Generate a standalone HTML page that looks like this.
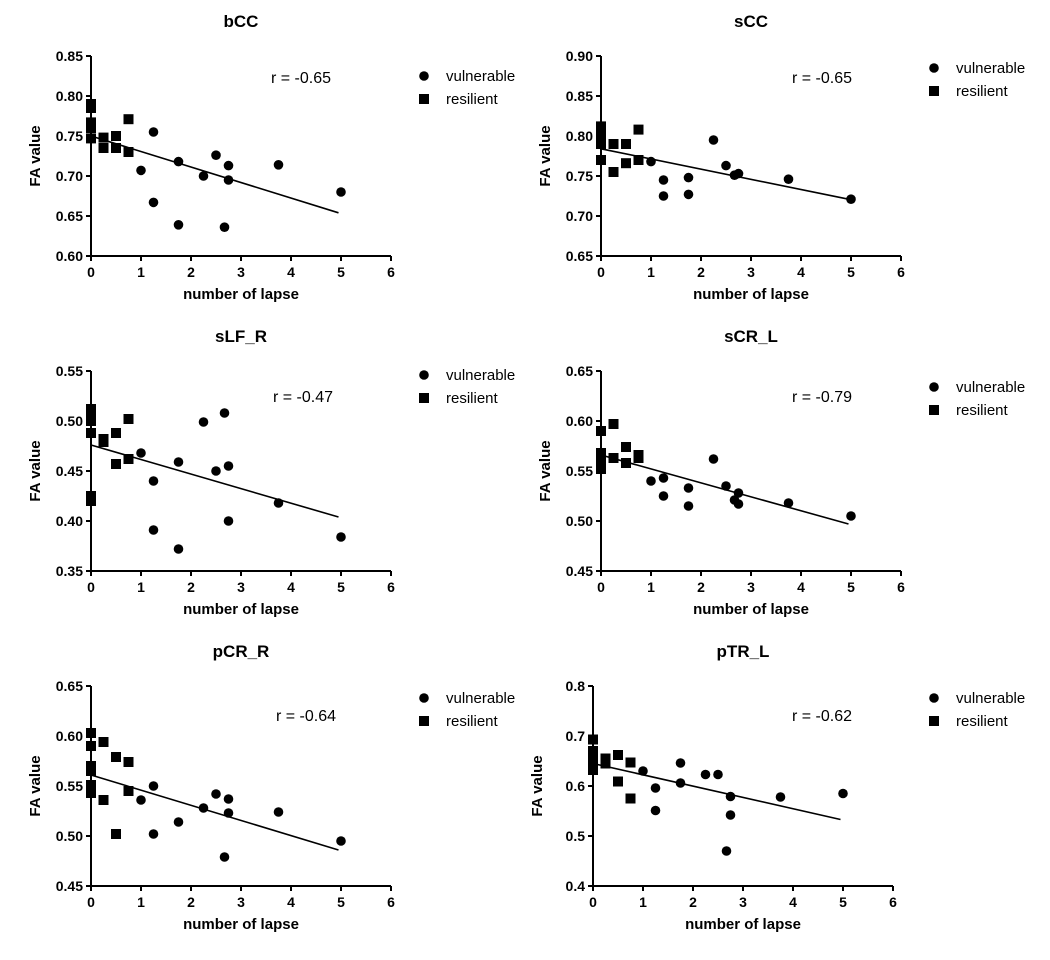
<!DOCTYPE html>
<html><head><meta charset="utf-8">
<style>
body{margin:0;background:#fff;}
svg{display:block;font-family:"Liberation Sans",Arial,sans-serif;}
.tick{font-size:14px;font-weight:bold;}
.ttl{font-size:17px;font-weight:bold;}
.axt{font-size:15px;font-weight:bold;}
.leg{font-size:15px;}
</style></head>
<body>
<svg id="chart" width="1050" height="960" viewBox="0 0 1050 960"></svg>
<script>
const panelTitles=["bCC","sCC","sLF_R","sCR_L","pCR_R","pTR_L"];
const rLabels=["r = -0.65","r = -0.65","r = -0.47","r = -0.79","r = -0.64","r = -0.62"];
const yMins=[0.60,0.65,0.35,0.45,0.45,0.4];
const yMaxs=[0.85,0.90,0.55,0.65,0.65,0.8];
const yStepsData=[0.05,0.05,0.05,0.05,0.05,0.1];
const yDecimals=[2,2,2,2,2,1];
const xTicks=[0,1,2,3,4,5,6];
const resX=[
 [0,0,0,0,0,0.25,0.25,0.5,0.5,0.75,0.75],
 [0,0,0,0,0,0,0.25,0.25,0.5,0.5,0.75,0.75],
 [0,0,0,0,0,0,0.25,0.25,0.5,0.5,0.75,0.75],
 [0,0,0,0,0,0.25,0.25,0.5,0.5,0.75,0.75],
 [0,0,0,0,0,0,0.25,0.25,0.5,0.5,0.75,0.75],
 [0,0,0,0,0,0.25,0.25,0.5,0.5,0.75,0.75]];
const resY=[
 [0.790,0.785,0.767,0.760,0.747,0.748,0.735,0.750,0.735,0.771,0.730],
 [0.812,0.805,0.800,0.795,0.790,0.770,0.790,0.755,0.790,0.766,0.808,0.770],
 [0.512,0.505,0.500,0.488,0.425,0.420,0.482,0.479,0.488,0.457,0.502,0.462],
 [0.590,0.568,0.563,0.558,0.552,0.597,0.563,0.574,0.558,0.566,0.563],
 [0.603,0.590,0.570,0.565,0.551,0.543,0.594,0.536,0.579,0.502,0.574,0.545],
 [0.693,0.670,0.660,0.645,0.632,0.655,0.645,0.662,0.609,0.647,0.575]];
const vulX=[
 [1,1.25,1.25,1.75,1.75,2.25,2.5,2.67,2.75,2.75,3.75,5],
 [1,1.25,1.25,1.75,1.75,2.25,2.5,2.67,2.75,3.75,5],
 [1,1.25,1.25,1.75,1.75,2.25,2.5,2.67,2.75,2.75,3.75,5],
 [1,1.25,1.25,1.75,1.75,2.25,2.5,2.67,2.75,2.75,3.75,5],
 [1,1.25,1.25,1.75,2.25,2.5,2.67,2.75,2.75,3.75,5],
 [1,1.25,1.25,1.75,1.75,2.25,2.5,2.67,2.75,2.75,3.75,5]];
const vulY=[
 [0.707,0.755,0.667,0.718,0.639,0.700,0.726,0.636,0.713,0.695,0.714,0.680],
 [0.768,0.745,0.725,0.748,0.727,0.795,0.763,0.751,0.753,0.746,0.721],
 [0.468,0.440,0.391,0.459,0.372,0.499,0.450,0.508,0.455,0.400,0.418,0.384],
 [0.540,0.543,0.525,0.533,0.515,0.562,0.535,0.521,0.528,0.517,0.518,0.505],
 [0.536,0.550,0.502,0.514,0.528,0.542,0.479,0.537,0.523,0.524,0.495],
 [0.630,0.596,0.551,0.646,0.606,0.623,0.623,0.470,0.579,0.542,0.578,0.585]];
const fitStart=[0.750,0.784,0.476,0.566,0.561,0.645];
const fitEnd=[0.654,0.721,0.404,0.497,0.486,0.533];
const fitXEnd=4.95;

const NS="http://www.w3.org/2000/svg";
const svg=document.getElementById('chart');
const ox=[91,601,91,601,91,593];
const oy=[56,56,371,371,686,686];
const rPos=[[301,78],[822,78],[303,397],[822,397],[306,716],[822,716]];
const legY=[76,68,375,387,698,698];
function mk(tag,attrs,parent,text){
  const e=document.createElementNS(NS,tag);
  for(const k in attrs)e.setAttribute(k,attrs[k]);
  if(text!==undefined)e.textContent=text;
  parent.appendChild(e);return e;
}
for(let p=0;p<6;p++){
  const X0=ox[p],Y0=oy[p],W=300,H=200;
  const sx=v=>X0+v/6*W;
  const sy=v=>Y0+H-(v-yMins[p])/(yMaxs[p]-yMins[p])*H;
  const g=mk('g',{},svg);
  
  
  const cx=X0+W/2;
  const t=mk('text',{x:cx,y:Y0-29,'text-anchor':'middle','class':'ttl'},g,panelTitles[p]);
  
  
  const ax=mk('path',{d:`M${X0},${Y0}V${Y0+H}H${X0+W}`,stroke:'#000','stroke-width':2,fill:'none'},g);
  
  
  const n=Math.round((yMaxs[p]-yMins[p])/yStepsData[p]);
  for(let i=0;i<=n;i++){
    const v=yMins[p]+i*yStepsData[p];const y=sy(v);
    mk('line',{x1:X0-5,x2:X0,y1:y,y2:y,stroke:'#000','stroke-width':2},g);
    const tl=mk('text',{x:X0-8,y:y+5,'text-anchor':'end','class':'tick'},g,v.toFixed(yDecimals[p]));
    
    
  }
  xTicks.forEach(v=>{
    const x=sx(v);
    mk('line',{x1:x,x2:x,y1:Y0+H,y2:Y0+H+5,stroke:'#000','stroke-width':2},g);
    const tl=mk('text',{x:x,y:Y0+H+21,'text-anchor':'middle','class':'tick'},g,String(v));
    
    
  });
  const xt=mk('text',{x:cx,y:Y0+H+43,'text-anchor':'middle','class':'axt'},g,'number of lapse');
  
  
  const yt=mk('text',{x:0,y:0,'text-anchor':'middle','class':'axt',transform:`translate(${X0-51},${Y0+H/2}) rotate(-90)`},g,'FA value');
  
  
  const fl=mk('line',{x1:sx(0),y1:sy(fitStart[p]),x2:sx(fitXEnd),y2:sy(fitEnd[p]),stroke:'#000','stroke-width':1.6},g);
  
  
  resX[p].forEach((xv,i)=>{
    const r=mk('rect',{x:sx(xv)-5,y:sy(resY[p][i])-5,width:10,height:10,fill:'#000'},g);
    
    
  });
  vulX[p].forEach((xv,i)=>{
    const c=mk('circle',{cx:sx(xv),cy:sy(vulY[p][i]),r:4.8,fill:'#000'},g);
    
    
  });
  const rl=mk('text',{x:rPos[p][0],y:rPos[p][1]+5,'text-anchor':'middle','font-size':'16px'},g,rLabels[p]);
  
  
  const lx=p%2===0?424:934, tx=p%2===0?446:956, ly=legY[p];
  const l1=mk('g',{},g);
  
  
  mk('circle',{cx:lx,cy:ly,r:4.8,fill:'#000'},l1);
  mk('text',{x:tx,y:ly+5,'class':'leg'},l1,'vulnerable');
  const l2=mk('g',{},g);
  
  
  mk('rect',{x:lx-5,y:ly+23-5,width:10,height:10,fill:'#000'},l2);
  mk('text',{x:tx,y:ly+23+5,'class':'leg'},l2,'resilient');
}
</script>
</body></html>
